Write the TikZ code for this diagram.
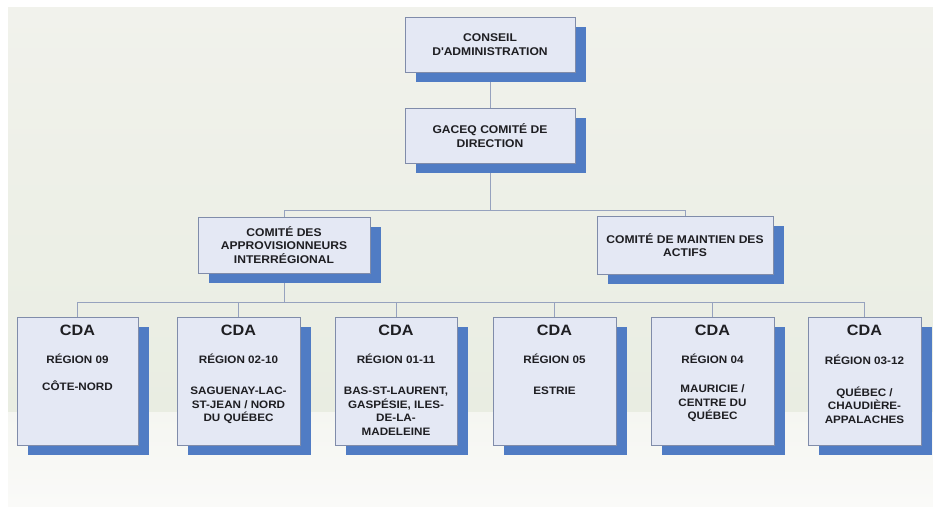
\documentclass[tikz,border=0pt]{standalone}
\usepackage{fontspec}
\setmainfont{Liberation Sans}[FakeStretch=1.08]
\usetikzlibrary{shadows}
\definecolor{boxfill}{RGB}{228,232,244}
\definecolor{boxline}{RGB}{128,140,170}
\definecolor{shadowblue}{RGB}{80,124,196}
\definecolor{linkline}{RGB}{150,162,190}
\definecolor{bgtop}{RGB}{241,242,236}
\definecolor{bgmid}{RGB}{233,237,226}
\definecolor{bglow}{RGB}{250,250,248}
\definecolor{inktext}{RGB}{30,30,34}
\pgfdeclarelayer{bg}
\pgfsetlayers{bg,main}

\begin{document}
\begin{tikzpicture}[x=1pt,y=-1pt,
		orgbox/.style={draw=boxline,line width=0.8pt,fill=boxfill,inner sep=0pt,
			drop shadow={shadow xshift=11pt,shadow yshift=-10pt,fill=shadowblue,opacity=1}},
		toptext/.style={align=center,text=inktext,font=\bfseries\fontsize{11.2}{13.5}\selectfont},
		cdabox/.style={orgbox,minimum height=128pt},
		cdatext/.style={anchor=north,align=center,text=inktext,inner sep=0pt,
			font=\bfseries\fontsize{10.8}{13.5}\selectfont},
		link/.style={draw=linkline,line width=1pt}]
				\useasboundingbox (0,0) rectangle (933,506);
				\node[orgbox,toptext,minimum width=170pt,minimum height=55pt] (conseil) at (490,44.5) {CONSEIL\\D\textquotesingle ADMINISTRATION};
				\node[orgbox,toptext,minimum width=170pt,minimum height=55pt] (gaceq) at (490,135.5) {GACEQ COMITÉ DE\\DIRECTION};
				\node[orgbox,toptext,minimum width=172pt,minimum height=56pt] (approv) at (284,245) {COMITÉ DES\\APPROVISIONNEURS\\INTERRÉGIONAL};
				\node[orgbox,toptext,minimum width=176pt,minimum height=58pt] (maintien) at (685,245) {COMITÉ DE MAINTIEN DES\\ACTIFS};
				\node[cdabox,minimum width=121pt] (cda1) at (77.5,381) {};
				\node[cdabox,minimum width=123pt] (cda2) at (238.5,381) {};
				\node[cdabox,minimum width=122pt] (cda3) at (396,381) {};
				\node[cdabox,minimum width=123pt] (cda4) at (554.5,381) {};
				\node[cdabox,minimum width=123pt] (cda5) at (712.5,381) {};
				\node[cdabox,minimum width=113pt] (cda6) at (864.5,381) {};
				\node[cdatext] (cda1t) at ([yshift=-8pt]cda1.north) {{\fontsize{15}{17}\selectfont CDA}\\[14.5pt]RÉGION 09\\[13.5pt]CÔTE-NORD};
				\node[cdatext] (cda2t) at ([yshift=-8pt]cda2.north) {{\fontsize{15}{17}\selectfont CDA}\\[14.5pt]RÉGION 02-10\\[18pt]SAGUENAY-LAC-\\ST-JEAN / NORD\\DU QUÉBEC};
				\node[cdatext] (cda3t) at ([yshift=-8pt]cda3.north) {{\fontsize{15}{17}\selectfont CDA}\\[14.5pt]RÉGION 01-11\\[18pt]BAS-ST-LAURENT,\\GASPÉSIE, ILES-\\DE-LA-\\MADELEINE};
				\node[cdatext] (cda4t) at ([yshift=-8pt]cda4.north) {{\fontsize{15}{17}\selectfont CDA}\\[14.5pt]RÉGION 05\\[18pt]ESTRIE};
				\node[cdatext] (cda5t) at ([yshift=-8pt]cda5.north) {{\fontsize{15}{17}\selectfont CDA}\\[14.5pt]RÉGION 04\\[16pt]MAURICIE /\\CENTRE DU\\QUÉBEC};
				\node[cdatext] (cda6t) at ([yshift=-8pt]cda6.north) {{\fontsize{15}{17}\selectfont CDA}\\[16pt]RÉGION 03-12\\[18pt]QUÉBEC /\\CHAUDIÈRE-\\APPALACHES};
				\coordinate (split1) at (490,210);
				\coordinate (split2) at (284,302);
				\begin{pgfonlayer}{bg}
				\fill[white] (0,0) rectangle (933,506);
				\shade[top color=bgtop,bottom color=bgmid] (8,7) rectangle (933,412);
				\shade[top color=bglow!70!bgmid,bottom color=bglow] (8,412) rectangle (933,506);
				\draw[link] (conseil) to (gaceq);
				\draw[link] (gaceq) to (split1);
				\draw[link] (approv.north) -- (approv.north |- split1) -- (maintien.north |- split1) -- (maintien.north);
				\draw[link] (approv) to (split2);
				\draw[link] (cda1.north) -- (cda1.north |- split2) -- (cda6.north |- split2) -- (cda6.north);
				\draw[link] (cda2.north |- split2) to (cda2.north);
				\draw[link] (cda3.north |- split2) to (cda3.north);
				\draw[link] (cda4.north |- split2) to (cda4.north);
				\draw[link] (cda5.north |- split2) to (cda5.north);
				\end{pgfonlayer}
			\end{tikzpicture}
\end{document}
